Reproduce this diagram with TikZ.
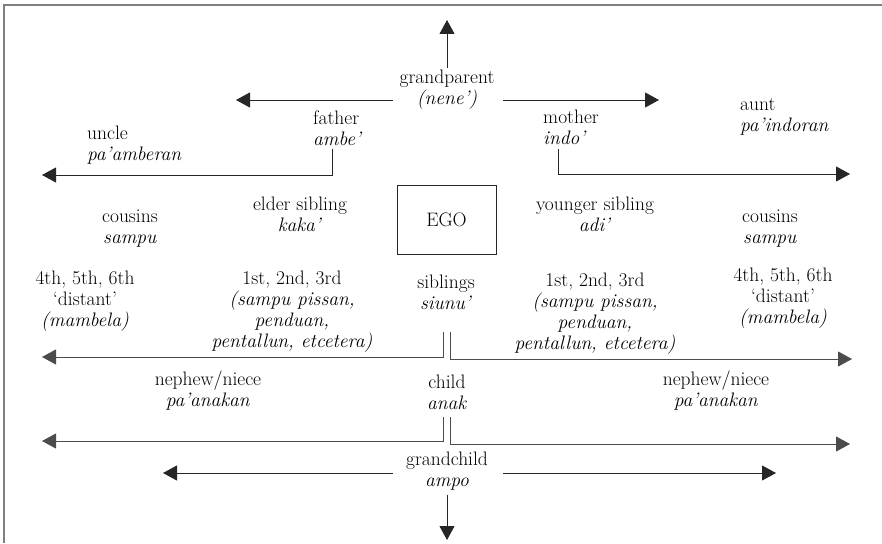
\documentclass[tikz,border=0pt]{standalone}
\usetikzlibrary{arrows.meta}
\begin{document}
\begin{tikzpicture}[x=1pt,y=-1pt,
  lbl/.style={font=\fontsize{19.5}{21}\selectfont, align=center, inner sep=0pt},
  lbll/.style={font=\fontsize{19.5}{21}\selectfont, align=left, inner sep=0pt, anchor=west},
  conn/.style={draw=black!85, line width=0.9pt, -{Triangle[length=14pt,width=15pt]}},
  split/.style={draw=black!70, line width=0.9pt, -{Triangle[length=14pt,width=15pt]}},
  frameline/.style={draw=black!50, line width=2pt},
  egobox/.style={draw=black!85, line width=0.9pt, minimum width=99pt, minimum height=69pt, font=\fontsize{19.5}{21}\selectfont}
]
\useasboundingbox (0,0) rectangle (882,543);
\draw[frameline] (4,543) -- (4,5.5) -- (882,5.5);

% labels
\node[lbl] (gp) at (447,90) {grandparent\\\textit{(nene')}};
\node[lbll] (fa) at (313,128) {father\\\textit{ambe'}};
\node[lbll] (mo) at (543,127) {mother\\\textit{indo'}};
\node[lbll] (unc) at (87,145) {uncle\\\textit{pa'amberan}};
\node[lbll] (aunt) at (740,117) {aunt\\\textit{pa'indoran}};
\node[lbl] (elder) at (300,214) {elder sibling\\\textit{kaka'}};
\node[lbl] (younger) at (595,214) {younger sibling\\\textit{adi'}};
\node[egobox] (ego) at (446.5,219.5) {EGO};
\node[lbl] (cousL) at (130,229) {cousins\\\textit{sampu}};
\node[lbl] (cousR) at (770,229) {cousins\\\textit{sampu}};
\node[lbl] (distL) at (85,301) {4th, 5th, 6th\\`distant'\\\textit{(mambela)}};
\node[lbl] (distR) at (783,298) {4th, 5th, 6th\\`distant'\\\textit{(mambela)}};
\node[lbl] (firstL) at (292,312) {1st, 2nd, 3rd\\\textit{(sampu pissan,}\\\textit{penduan,}\\\textit{pentallun, etcetera)}};
\node[lbl] (firstR) at (595,314) {1st, 2nd, 3rd\\\textit{(sampu pissan,}\\\textit{penduan,}\\\textit{pentallun, etcetera)}};
\node[lbl] (sib) at (446,292) {siblings\\\textit{siunu'}};
\node[lbl] (nephL) at (208,391) {nephew/niece\\\textit{pa'anakan}};
\node[lbl] (nephR) at (716,391) {nephew/niece\\\textit{pa'anakan}};
\node[lbl] (child) at (447,392) {child\\\textit{anak}};
\node[lbl] (gc) at (447,471) {grandchild\\\textit{ampo}};

% connector end points
\coordinate (gpTop) at (447,68);
\coordinate (upTip) at (447,20);
\coordinate (gpL) at (393,100);
\coordinate (gpLtip) at (236,100);
\coordinate (gpR) at (503,100);
\coordinate (gpRtip) at (659,100);
\coordinate (faB) at (332,149);
\coordinate (uncTip) at (42,175);
\coordinate (moB) at (558,149);
\coordinate (auntTip) at (850,174);
\coordinate (sibBL) at (443,332);
\coordinate (sibLtip) at (42,357);
\coordinate (sibBR) at (450,332);
\coordinate (sibRtip) at (852,359);
\coordinate (chBL) at (443,417);
\coordinate (chLtip) at (42,441);
\coordinate (chBR) at (450,417);
\coordinate (chRtip) at (850,444);
\coordinate (gcL) at (393,473);
\coordinate (gcLtip) at (163,473);
\coordinate (gcR) at (503,473);
\coordinate (gcRtip) at (776,473);
\coordinate (gcB) at (447,495);
\coordinate (downTip) at (447,540);

% connectors
\draw[conn] (gpTop) -- (upTip);
\draw[conn] (gpL) -- (gpLtip);
\draw[conn] (gpR) -- (gpRtip);
\draw[conn] (faB) |- (uncTip);
\draw[conn] (moB) |- (auntTip);
\draw[split] (sibBL) |- (sibLtip);
\draw[split] (sibBR) |- (sibRtip);
\draw[split] (chBL) |- (chLtip);
\draw[split] (chBR) |- (chRtip);
\draw[conn] (gcL) -- (gcLtip);
\draw[conn] (gcR) -- (gcRtip);
\draw[conn] (gcB) -- (downTip);
\end{tikzpicture}
\end{document}
